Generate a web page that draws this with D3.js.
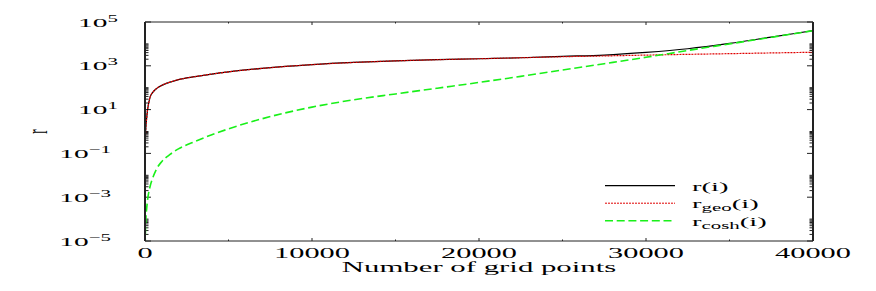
<!DOCTYPE html>
<html>
<head>
<meta charset="utf-8">
<script src="https://cdn.jsdelivr.net/npm/d3@7"></script>
<style>
	body { margin: 0; background: #fff; }
	text { font-family: "Liberation Serif", "Times New Roman", serif; fill: #000; }
</style>
</head>
<body>
<script>
// grid index i and the three radius series
var gridPoints = [1, 20, 50, 100, 150, 200, 300, 500, 700, 1000, 1500, 2000, 3000, 4000, 5000, 7000, 10000, 12500, 15000, 17500, 20000, 22500, 25000, 27500, 30000, 32500, 35000, 37500, 40000];
var rValues = [0.05, 0.4, 1.5, 4, 9.5, 16, 36, 66, 93, 128, 180, 235, 320, 420, 530, 760, 1130, 1420, 1680, 1900, 2100, 2330, 2700, 3100, 4100, 6000, 10500, 20500, 40000];
var rGeoValues = [0.05, 0.4, 1.5, 4, 9.5, 16, 36, 66, 93, 128, 180, 235, 320, 420, 530, 760, 1130, 1420, 1680, 1900, 2100, 2330, 2600, 2820, 3080, 3330, 3580, 3870, 4150];
var rCoshValues = [4e-8, 1.6e-5, 9e-5, 3e-4, 7e-4, 1.3e-3, 3e-3, 9e-3, 0.02, 0.042, 0.09, 0.16, 0.35, 0.71, 1.32, 3.8, 13, 28, 52, 95, 174, 330, 645, 1250, 2450, 5000, 10000, 20000, 40000];

var xTicks = [0, 10000, 20000, 30000, 40000];
var xMinorTicks = [5000, 15000, 25000, 35000];
var yTickExponents = [5, 3, 1, -1, -3, -5];
var seriesNames = ["r", "r_geo", "r_cosh"];
var seriesSubs = ["", "geo", "cosh"];

(function(d3) {
	var width = 876;
	var height = 291;
	// the original postscript got squeezed into a wide box, so glyphs are stretched sideways
	var sx = 2.2;

	var svg = d3.select("body").append("svg")
		.attr("width", width)
		.attr("height", height);

	var x = d3.scaleLinear().domain([0, 40000]).range([145, 813]);
	var y = d3.scaleLog().domain([1e-5, 1e5]).range([241, 22]);

	svg.append("clipPath").attr("id", "plotclip")
		.append("rect")
		.attr("x", x(0)).attr("y", y(1e5))
		.attr("width", x(40000) - x(0)).attr("height", y(1e-5) - y(1e5));

	function stretched(px, py, rotate) {
		return svg.append("g")
			.attr("transform", "translate(" + px + "," + py + ") scale(" + sx + ",1)" + (rotate ? " rotate(" + rotate + ")" : ""))
			.append("text");
	}

	// ticks, mirrored on both sides
	var left = x(0), right = x(40000), top = y(1e5), bottom = y(1e-5);
	var ticks = svg.append("g").attr("stroke", "#222").attr("stroke-width", 1);

	xTicks.concat(xMinorTicks).forEach(function(t) {
		var len = xTicks.indexOf(t) >= 0 ? 3 : 1.5;
		ticks.append("line").attr("x1", x(t)).attr("x2", x(t)).attr("y1", bottom).attr("y2", bottom - len);
		ticks.append("line").attr("x1", x(t)).attr("x2", x(t)).attr("y1", top).attr("y2", top + len);
	});

	yTickExponents.forEach(function(e) {
		var v = Math.pow(10, e);
		ticks.append("line").attr("x1", left).attr("x2", left + 6).attr("y1", y(v)).attr("y2", y(v));
		ticks.append("line").attr("x1", right).attr("x2", right - 6).attr("y1", y(v)).attr("y2", y(v));
		if (e >= 5) return;
		for (var k = 2; k <= 10; k++) {
			var m = k * v;
			ticks.append("line").attr("x1", left).attr("x2", left + 3.5).attr("y1", y(m)).attr("y2", y(m));
			ticks.append("line").attr("x1", right).attr("x2", right - 3.5).attr("y1", y(m)).attr("y2", y(m));
		}
	});

	// curves
	function series(values) {
		return gridPoints.map(function(g, i) { return [g, values[i]]; });
	}

	var line = d3.line()
		.x(function(d) { return x(d[0]); })
		.y(function(d) { return y(d[1]); })
		.curve(d3.curveMonotoneX);

	var curves = svg.append("g").attr("clip-path", "url(#plotclip)").attr("fill", "none");

	curves.append("path").attr("d", line(series(rValues)))
		.attr("stroke", "#000").attr("stroke-width", 1.2);
	curves.append("path").attr("d", line(series(rGeoValues)))
		.attr("stroke", "#e00000").attr("stroke-width", 1.2).attr("stroke-dasharray", "2,1");
	curves.append("path").attr("d", line(series(rCoshValues)))
		.attr("stroke", "#19f019").attr("stroke-width", 1.6).attr("stroke-dasharray", "8,3.7");

	// frame: vertical sides look thicker because of the sideways stretch
	var frame = svg.append("g").attr("stroke", "#222");
	frame.append("line").attr("x1", left).attr("x2", right).attr("y1", top).attr("y2", top).attr("stroke-width", 1);
	frame.append("line").attr("x1", left).attr("x2", right).attr("y1", bottom).attr("y2", bottom).attr("stroke-width", 1);
	frame.append("line").attr("x1", left).attr("x2", left).attr("y1", top).attr("y2", bottom).attr("stroke-width", 2);
	frame.append("line").attr("x1", right).attr("x2", right).attr("y1", top).attr("y2", bottom).attr("stroke-width", 2);

	// x tick labels
	xTicks.forEach(function(t) {
		stretched(x(t), 257.5)
			.attr("text-anchor", "middle")
			.attr("font-size", "13.8px")
			.text(t);
	});

	// y tick labels as 10^e
	yTickExponents.forEach(function(e) {
		var t = stretched(e < 0 ? 111 : 118, y(Math.pow(10, e)) + 4.5)
			.attr("text-anchor", "end")
			.attr("font-size", "13.4px");
		t.append("tspan").text("10");
		t.append("tspan").attr("dy", -5).attr("font-size", "9.5px").text(String(e).replace("-", "\u2212"));
	});

	// axis titles
	stretched((left + right) / 2, 272)
		.attr("text-anchor", "middle")
		.attr("font-size", "14px")
		.text("Number of grid points");

	stretched(47, (top + bottom) / 2, -90)
		.attr("text-anchor", "middle")
		.attr("font-size", "13px")
		.text("r");

	// legend
	var legendStyles = [
		{stroke: "#000", width: 1.2, dash: null},
		{stroke: "#e00000", width: 1, dash: "2,1"},
		{stroke: "#19f019", width: 1.4, dash: "8,3.7"}
	];
	seriesNames.forEach(function(name, i) {
		var ly = 185.7 + i * 17.5;
		var s = legendStyles[i];
		svg.append("line")
			.attr("x1", 605).attr("x2", 675).attr("y1", ly).attr("y2", ly)
			.attr("stroke", s.stroke).attr("stroke-width", s.width)
			.attr("stroke-dasharray", s.dash);
		var t = stretched(692, ly + 4.8).attr("font-size", "13px");
		t.append("tspan").text("r");
		if (seriesSubs[i]) {
			t.append("tspan").attr("dy", 3).attr("font-size", "9.5px").text(seriesSubs[i]);
			t.append("tspan").attr("dy", -3).text("(i)");
		} else {
			t.append("tspan").text("(i)");
		}
	});

})(d3);
</script>
</body>
</html>
